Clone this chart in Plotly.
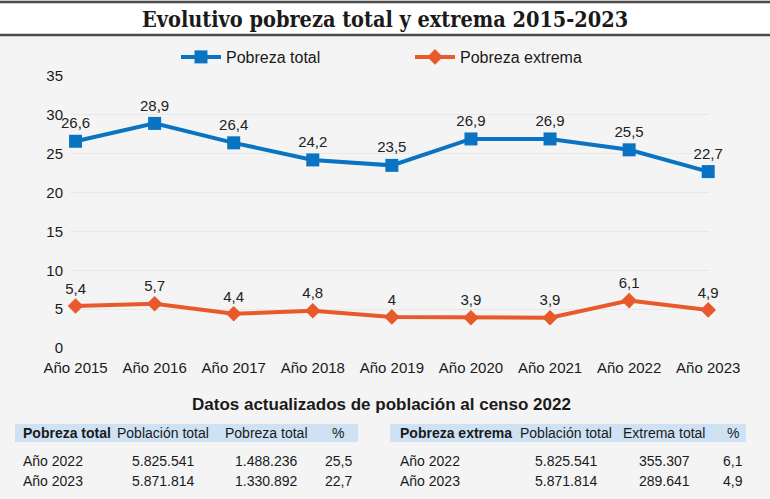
import plotly.graph_objects as go

# ---- data ----
years = ["Año 2015", "Año 2016", "Año 2017", "Año 2018", "Año 2019",
         "Año 2020", "Año 2021", "Año 2022", "Año 2023"]
pobreza_total = [26.6, 28.9, 26.4, 24.2, 23.5, 26.9, 26.9, 25.5, 22.7]
pobreza_extrema = [5.4, 5.7, 4.4, 4.8, 4.0, 3.9, 3.9, 6.1, 4.9]
y_ticks = [0, 5, 10, 15, 20, 25, 30, 35]

title_text = "Evolutivo pobreza total y extrema 2015-2023"
subtitle_text = "Datos actualizados de población al censo 2022"

table_total_header = ["Pobreza total", "Población total", "Pobreza total", "%"]
table_total_rows = [["Año 2022", "5.825.541", "1.488.236", "25,5"],
                    ["Año 2023", "5.871.814", "1.330.892", "22,7"]]
table_extrema_header = ["Pobreza extrema", "Población total", "Extrema total", "%"]
table_extrema_rows = [["Año 2022", "5.825.541", "355.307", "6,1"],
                      ["Año 2023", "5.871.814", "289.641", "4,9"]]

# ---- layout helpers (pixel -> paper) ----
W, H = 770, 499
L, R, T, B = 70, 709, 76, 348


def px(x):
    return (x - L) / (R - L)


def py(y):
    return (B - y) / (B - T)


def fmt(v):
    return f"{v:g}".replace(".", ",")


FONT = "Liberation Sans, Arial, sans-serif"
BLUE = "#0a74c2"
ORANGE = "#e8592b"
BG = "#f4f4f4"

fig = go.Figure()
fig.add_trace(go.Scatter(
    x=years, y=pobreza_total, name="Pobreza total",
    mode="lines+markers+text",
    line=dict(color=BLUE, width=4),
    marker=dict(symbol="square", size=13, color=BLUE),
    text=[fmt(v) for v in pobreza_total], textposition="top center",
    textfont=dict(size=15, color="#222222", family=FONT),
    cliponaxis=False,
))
fig.add_trace(go.Scatter(
    x=years, y=pobreza_extrema, name="Pobreza extrema",
    mode="lines+markers+text",
    line=dict(color=ORANGE, width=4),
    marker=dict(symbol="diamond", size=12, color=ORANGE),
    text=[fmt(v) for v in pobreza_extrema], textposition="top center",
    textfont=dict(size=15, color="#222222", family=FONT),
    cliponaxis=False,
))

shapes = []
annotations = []

# title band
shapes.append(dict(type="rect", xref="paper", yref="paper",
                   x0=px(0), x1=px(W), y0=py(35), y1=py(2),
                   fillcolor="white", line=dict(width=0), layer="below"))
for yy in (2, 35):
    shapes.append(dict(type="line", xref="paper", yref="paper",
                       x0=px(0), x1=px(W), y0=py(yy), y1=py(yy),
                       line=dict(color="#4a4a4a", width=2.5)))
annotations.append(dict(xref="paper", yref="paper", x=px(385), y=py(19),
                        text="<b>" + title_text + "</b>", showarrow=False,
                        xanchor="center", yanchor="middle",
                        font=dict(family="DejaVu Serif Condensed, DejaVu Serif, serif",
                                  size=21.5, color="#1a1a1a")))

# subtitle
annotations.append(dict(xref="paper", yref="paper", x=px(381), y=py(404),
                        text="<b>" + subtitle_text + "</b>", showarrow=False,
                        xanchor="center", yanchor="middle",
                        font=dict(family=FONT, size=17, color="#1a1a1a")))


def add_table(header, rows, x0, x1, col_x, col_anchor):
    shapes.append(dict(type="rect", xref="paper", yref="paper",
                       x0=px(x0), x1=px(x1), y0=py(442), y1=py(424),
                       fillcolor="#cfe2f4", line=dict(width=0), layer="below"))
    for j, h in enumerate(header):
        txt = "<b>" + h + "</b>" if j == 0 else h
        annotations.append(dict(xref="paper", yref="paper", x=px(col_x[j]), y=py(433),
                                text=txt, showarrow=False, xanchor=col_anchor[j],
                                yanchor="middle",
                                font=dict(family=FONT, size=14, color="#1a1a1a")))
    for i, row in enumerate(rows):
        yy = 461 + 20 * i
        for j, v in enumerate(row):
            annotations.append(dict(xref="paper", yref="paper", x=px(col_x[j]), y=py(yy),
                                    text=v, showarrow=False, xanchor=col_anchor[j],
                                    yanchor="middle",
                                    font=dict(family=FONT, size=14, color="#1a1a1a")))


add_table(table_total_header, table_total_rows, 15, 358,
          [21, 163, 266, 338], ["left", "center", "center", "center"])
add_table(table_extrema_header, table_extrema_rows, 390, 746,
          [398, 566, 664, 733], ["left", "center", "center", "center"])

fig.update_layout(
    width=W, height=H,
    margin=dict(l=L, r=W - R, t=T, b=H - B, pad=0),
    paper_bgcolor=BG, plot_bgcolor=BG,
    font=dict(family=FONT, size=15, color="#1a1a1a"),
    showlegend=True,
    legend=dict(orientation="h", x=px(176), y=py(57), xanchor="left", yanchor="middle",
                bgcolor="rgba(0,0,0,0)", font=dict(size=16, family=FONT, color="#1a1a1a"),
                entrywidth=179, itemwidth=40),
    shapes=shapes,
    annotations=annotations,
    xaxis=dict(type="category", range=[-0.07, 8.01], showgrid=False, zeroline=False,
               showline=False, ticks="", tickfont=dict(size=15), ticklabelstandoff=9),
    yaxis=dict(range=[0, 35], tickvals=y_ticks, showgrid=True, gridcolor="#e8e8e8",
               gridwidth=1, zeroline=False, showline=False, ticks="",
               tickfont=dict(size=15), ticklabelstandoff=6),
)

fig.write_html("out.html", config={"displayModeBar": False},
               post_script="document.body.style.margin='0';document.body.style.background='#f4f4f4';")
